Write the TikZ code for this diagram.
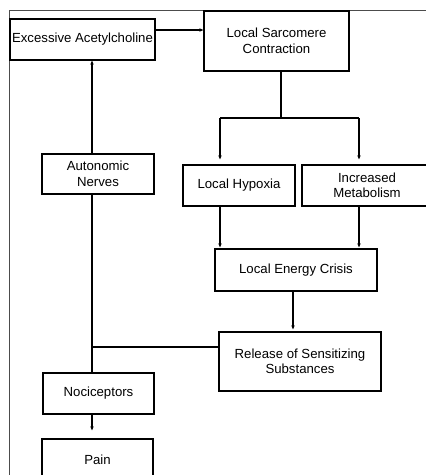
\documentclass[tikz,border=0pt]{standalone}
\usepackage{fontspec}
\setmainfont{Liberation Sans}
\usetikzlibrary{arrows.meta}
\begin{document}
\begin{tikzpicture}[x=1pt,y=-1pt,
  box/.style={draw=black,line width=1.3pt,fill=white,inner sep=0pt,align=center,
    font=\fontsize{13.2}{15.5}\selectfont},
  conn/.style={line width=1.5pt},
  arr/.style={line width=1.5pt,-{Stealth[length=4pt,width=3.5pt]}},
  frame/.style={draw=black!70,line width=0.7pt}]
\useasboundingbox (0,0) rectangle (426,475);
\draw[frame] (9,475) -- (9,10) -- (426,10);
\node[box,minimum width=145pt,minimum height=41pt] (acetyl) at (82.5,39.5) {Excessive Acetylcholine};
\node[box,minimum width=145pt,minimum height=60pt] (sarc) at (276.5,41) {Local Sarcomere\\Contraction};
\node[box,minimum width=112pt,minimum height=41pt] (hypoxia) at (239,185.5) {Local Hypoxia};
\node[box,minimum width=130pt,minimum height=41pt] (metab) at (367,185.5) {Increased\\Metabolism};
\node[box,minimum width=162pt,minimum height=42pt] (crisis) at (296,270) {Local Energy Crisis};
\node[box,minimum width=162pt,minimum height=59pt] (release) at (300,361.5) {Release of Sensitizing\\Substances};
\node[box,minimum width=112pt,minimum height=40pt] (auton) at (98,174) {Autonomic\\Nerves};
\node[box,minimum width=111pt,minimum height=41pt] (nocic) at (98.5,393.5) {Nociceptors};
\node[box,minimum width=111pt,minimum height=41pt] (pain) at (97.5,459.5) {Pain};
\coordinate (ya) at (0,30);
\coordinate (js) at (281,118);
\coordinate (jl) at (220,118);
\coordinate (jr) at (359,118);
\coordinate (xc) at (293,0);
\coordinate (yr) at (0,347);
\coordinate (xn) at (92,0);
\coordinate (jn) at (92,347);
\draw[arr] (acetyl.east |- ya) -- (sarc.west |- ya);
\draw[conn] (sarc.south -| js) -- (js);
\draw[conn] (jl) -- (jr);
\draw[arr,shorten >=5pt] (jl) -- (hypoxia.north -| jl);
\draw[arr,shorten >=5pt] (jr) -- (metab.north -| jr);
\draw[arr,shorten >=1pt] (hypoxia.south -| jl) -- (crisis.north -| jl);
\draw[arr,shorten >=1pt] (metab.south -| jr) -- (crisis.north -| jr);
\draw[arr,shorten >=2pt] (crisis.south -| xc) -- (release.north -| xc);
\draw[conn] (release.west |- yr) -- (jn);
\draw[arr] (auton.north -| xn) -- (acetyl.south -| xn);
\draw[conn] (auton.south -| xn) -- (nocic.north -| xn);
\draw[arr,shorten >=8pt] (nocic.south -| xn) -- (pain.north -| xn);
\end{tikzpicture}
\end{document}
